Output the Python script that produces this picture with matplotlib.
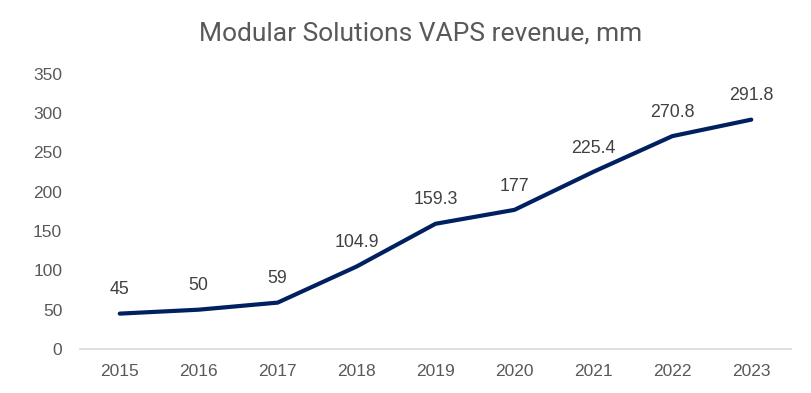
import matplotlib.pyplot as plt

years = ['2015', '2016', '2017', '2018', '2019', '2020', '2021', '2022', '2023']
revenue = [45, 50, 59, 104.9, 159.3, 177, 225.4, 270.8, 291.8]
labels = ['45', '50', '59', '104.9', '159.3', '177', '225.4', '270.8', '291.8']

plt.rcParams['font.family'] = ['Liberation Sans', 'DejaVu Sans']

fig = plt.figure(figsize=(8.11, 3.93), dpi=100)
ax = fig.add_axes([0.099, 0.112, 0.876, 0.7])

x = range(len(years))
ax.plot(x, revenue, color='#002060', linewidth=3.0, solid_capstyle='round', solid_joinstyle='round')
for i, v in enumerate(revenue):
    ax.annotate(labels[i], (i, v), xytext=(0, 11), textcoords='offset points',
                ha='center', va='bottom', fontsize=12.8, color='#404040')

ax.set_xlim(-0.5, len(years) - 0.5)
ax.set_ylim(0, 350)
ax.set_xticks(list(x))
ax.set_xticklabels(years)
ax.set_yticks(range(0, 351, 50))
ax.tick_params(axis='both', length=0, labelsize=12.5, labelcolor='#595959')
ax.tick_params(axis='y', pad=13)
ax.tick_params(axis='x', pad=11)
for s in ['top', 'right', 'left']:
    ax.spines[s].set_visible(False)
ax.spines['bottom'].set_color('#d9d9d9')
ax.spines['bottom'].set_linewidth(1.2)

fig.text(0.518, 0.915, 'Modular Solutions VAPS revenue, mm', ha='center', va='center',
         fontsize=19, color='#595959', family=['Roboto', 'DejaVu Sans'])

fig.savefig('out.png', dpi=100)
